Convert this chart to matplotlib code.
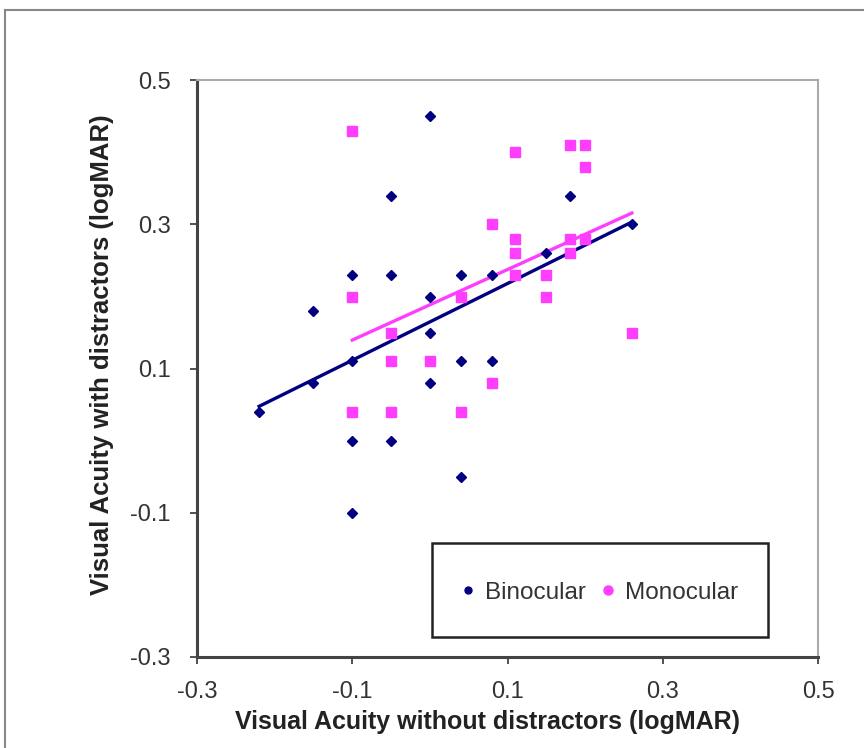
import numpy as np
import matplotlib
matplotlib.use("Agg")
import matplotlib.pyplot as plt
from matplotlib.lines import Line2D
from matplotlib.patches import Rectangle

plt.rcParams['font.family'] = ['Liberation Sans', 'DejaVu Sans']

# Binocular (without, with distractors)
bin_x = [0.0, -0.05, -0.1, -0.05, 0.04, 0.08, 0.0, -0.15, 0.0, -0.1, 0.04, 0.08,
         -0.22, -0.15, 0.0, -0.1, -0.05, 0.04, -0.1, 0.18, 0.26, 0.15]
bin_y = [0.45, 0.34, 0.23, 0.23, 0.23, 0.23, 0.2, 0.18, 0.15, 0.11, 0.11, 0.11,
         0.04, 0.08, 0.08, 0.0, 0.0, -0.05, -0.1, 0.34, 0.3, 0.26]

# Monocular
mon_x = [-0.1, 0.08, -0.1, -0.05, 0.04, -0.05, 0.0, 0.11, 0.18, 0.2, 0.2, 0.11,
         0.11, 0.11, 0.18, 0.2, 0.18, 0.15, 0.15, 0.26, 0.08, -0.1, -0.05, 0.04]
mon_y = [0.43, 0.3, 0.2, 0.15, 0.2, 0.11, 0.11, 0.4, 0.41, 0.41, 0.38, 0.28,
         0.26, 0.23, 0.28, 0.28, 0.26, 0.23, 0.2, 0.15, 0.08, 0.04, 0.04, 0.04]

ticks = [-0.3, -0.1, 0.1, 0.3, 0.5]

navy = "#000080"
pink = "#FF3DFF"

fig = plt.figure(figsize=(8.64, 7.48), dpi=100)
ax = fig.add_axes([0.228, 0.1217, 0.719, 0.771])

# trend lines (linear fit over each series' x range)
for xs, ys, c in [(bin_x, bin_y, navy), (mon_x, mon_y, pink)]:
    xs = np.array(xs); ys = np.array(ys)
    k, b = np.polyfit(xs, ys, 1)
    xx = np.array([xs.min(), xs.max()])
    ax.plot(xx, k * xx + b, color=c, lw=2.4, zorder=2)

ax.plot(bin_x, bin_y, linestyle="none", marker="D", ms=5.5, color=navy, zorder=3)
ax.plot(mon_x, mon_y, linestyle="none", marker="s", ms=6.8, color=pink, zorder=3)

ax.set_xlim(-0.3, 0.5)
ax.set_ylim(-0.3, 0.5)
ax.set_xticks(ticks)
ax.set_yticks(ticks)
ax.set_xticklabels([f"{t:.1f}" for t in ticks])
ax.set_yticklabels([f"{t:.1f}" for t in ticks])
ax.tick_params(direction="out", length=5, width=1.2, labelsize=17, colors="#333333")
ax.tick_params(axis="x", pad=12)
ax.tick_params(axis="y", pad=14)

ax.spines["left"].set_color("#444444")
ax.spines["left"].set_linewidth(2.2)
ax.spines["bottom"].set_color("#444444")
ax.spines["bottom"].set_linewidth(2.2)
ax.spines["top"].set_color("#aaaaaa")
ax.spines["top"].set_linewidth(1.5)
ax.spines["right"].set_color("#aaaaaa")
ax.spines["right"].set_linewidth(1.5)

ax.set_xlabel("Visual Acuity without distractors (logMAR)", fontsize=18,
              fontweight="bold", color="#222222")
ax.set_ylabel("Visual Acuity with distractors (logMAR)", fontsize=18.5,
              fontweight="bold", color="#222222")
ax.xaxis.set_label_coords(0.467, -0.092)
ax.yaxis.set_label_coords(-0.133, 0.525)

# legend box
ax.add_patch(Rectangle((0.378, 0.035), 0.541, 0.163, transform=ax.transAxes,
                       facecolor="white", edgecolor="#222222", lw=1.8, zorder=4))
handles = [Line2D([], [], linestyle="none", marker="o", ms=5, color=navy),
           Line2D([], [], linestyle="none", marker="o", ms=6.5, color=pink)]
leg = ax.legend(handles, ["Binocular", "Monocular"], ncol=2,
                loc="center", bbox_to_anchor=(0.648, 0.111),
                fontsize=17.5, frameon=False, handlelength=0.6,
                handletextpad=0.4, columnspacing=0.6, borderaxespad=0)
leg.set_zorder(5)
for t in leg.get_texts():
    t.set_color("#333333")

# outer chart frame (left and top edges)
fig.add_artist(Line2D([5 / 864, 5 / 864], [0, 1 - 10 / 748],
                      transform=fig.transFigure, color="#888888", lw=1.5))
fig.add_artist(Line2D([5 / 864, 1], [1 - 10 / 748, 1 - 10 / 748],
                      transform=fig.transFigure, color="#888888", lw=1.5))

fig.savefig("out.png", dpi=100)
